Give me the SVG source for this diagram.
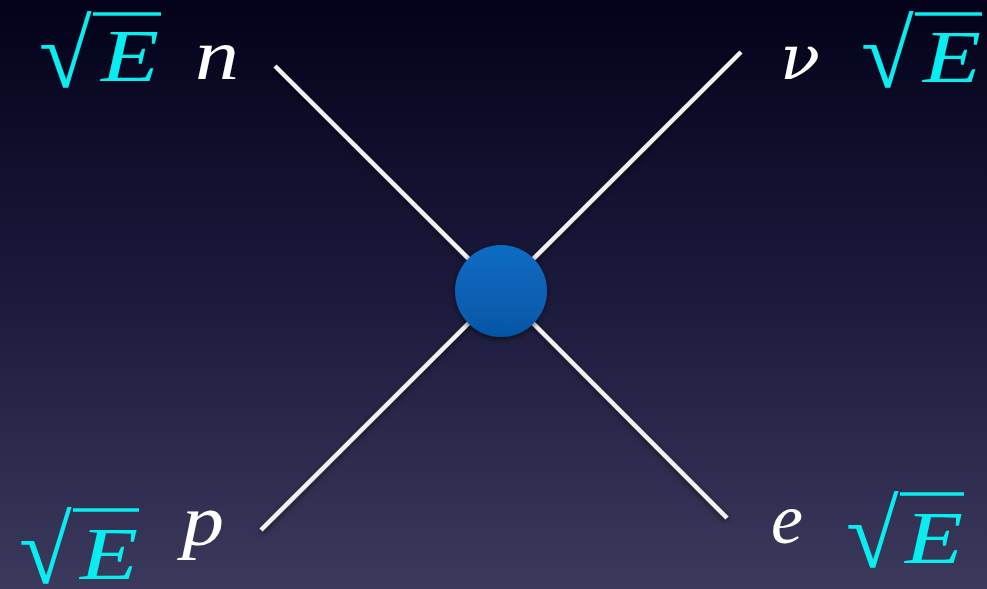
<svg xmlns="http://www.w3.org/2000/svg" width="987" height="589" viewBox="0 0 987 589">
<defs>
<linearGradient id="bg" x1="0" y1="0" x2="0" y2="1">
<stop offset="0" stop-color="#03021a"/>
<stop offset="0.5" stop-color="#1c1a3c"/>
<stop offset="1" stop-color="#3c3a5c"/>
</linearGradient>
<linearGradient id="ball" x1="0" y1="0" x2="0" y2="1">
<stop offset="0" stop-color="#0a6cc4"/>
<stop offset="1" stop-color="#0656a6"/>
</linearGradient>
<filter id="shadow" x="-30%" y="-30%" width="160%" height="160%">
<feGaussianBlur in="SourceAlpha" stdDeviation="3"/>
<feOffset dx="0" dy="2" result="b"/>
<feFlood flood-color="#000000" flood-opacity="0.6"/>
<feComposite in2="b" operator="in"/>
<feMerge><feMergeNode/><feMergeNode in="SourceGraphic"/></feMerge>
</filter>
<style>
.lbl{font-family:"Liberation Serif","DejaVu Serif",serif;font-style:italic;fill:#ffffff;font-size:72px}
.gr{font-family:"DejaVu Serif","Liberation Serif",serif;font-style:italic;fill:#ffffff;font-size:62px}
.cy{font-family:"Liberation Serif","DejaVu Serif",serif;fill:#08eef0}
.e{font-style:italic;font-size:74px}
.rad{font-size:96px}
.vin{stroke:#08eef0;stroke-width:3.5}
.ln{stroke:#f2f2f2;stroke-width:4.5;stroke-linecap:butt}
</style>
</defs>
<rect width="987" height="589" fill="url(#bg)"/>
<g id="connectors" filter="url(#shadow)">
<line class="ln" x1="275" y1="66" x2="501" y2="291"/>
<line class="ln" x1="741" y1="52" x2="501" y2="291"/>
<line class="ln" x1="261" y1="530" x2="501" y2="291"/>
<line class="ln" x1="727" y1="518" x2="501" y2="291"/>
</g>
<g id="vertex">
<circle cx="501" cy="291" r="46" fill="url(#ball)" filter="url(#shadow)"/>
</g>
<g id="n"><text class="lbl" x="195" y="79" textLength="44" lengthAdjust="spacingAndGlyphs">n</text></g>
<g id="nu"><text class="gr" x="780" y="79" textLength="40" lengthAdjust="spacingAndGlyphs">ν</text></g>
<g id="p"><text class="lbl" x="182" y="545" textLength="42" lengthAdjust="spacingAndGlyphs">p</text></g>
<g id="e"><text class="lbl" x="771" y="543" textLength="32" lengthAdjust="spacingAndGlyphs">e</text></g>
<g id="sqrtE-n" class="cy">
<text class="rad" x="39" y="87">√</text>
<line class="vin" x1="93" y1="14" x2="161" y2="14"/>
<text class="e" x="101" y="81" textLength="58" lengthAdjust="spacingAndGlyphs">E</text>
</g>
<g id="sqrtE-nu" class="cy">
<text class="rad" x="861" y="87">√</text>
<line class="vin" x1="915" y1="14" x2="982" y2="14"/>
<text class="e" x="923" y="82" textLength="58" lengthAdjust="spacingAndGlyphs">E</text>
</g>
<g id="sqrtE-p" class="cy">
<text class="rad" x="19" y="583">√</text>
<line class="vin" x1="73" y1="510" x2="139" y2="510"/>
<text class="e" x="80" y="579" textLength="58" lengthAdjust="spacingAndGlyphs">E</text>
</g>
<g id="sqrtE-e" class="cy">
<text class="rad" x="846" y="567">√</text>
<line class="vin" x1="900" y1="494" x2="964" y2="494"/>
<text class="e" x="905" y="563" textLength="58" lengthAdjust="spacingAndGlyphs">E</text>
</g>
</svg>
